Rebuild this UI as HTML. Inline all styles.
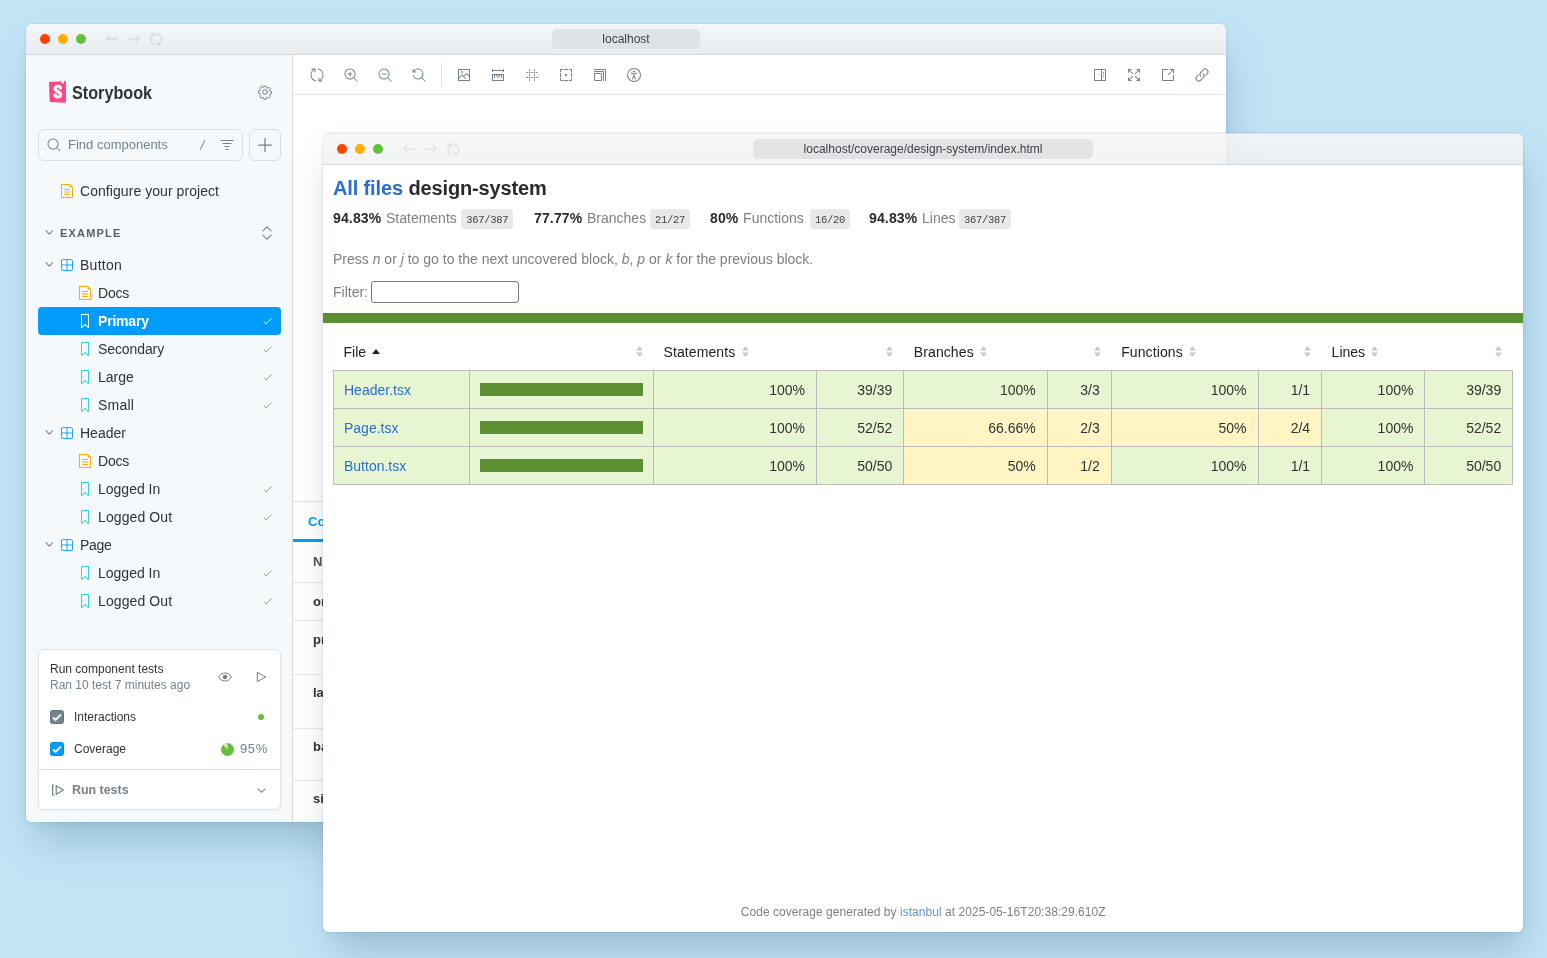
<!DOCTYPE html>
<html>
<head>
<meta charset="utf-8">
<title>Storybook coverage</title>
<style>
*{box-sizing:border-box;margin:0;padding:0}
html,body{width:1547px;height:958px;overflow:hidden}
body{background:#c2e5f6;font-family:"Liberation Sans",sans-serif;position:relative;color:#2e3438}
.abs{position:absolute}
.t{position:absolute;white-space:nowrap}
svg{position:absolute;overflow:visible}
.win{position:absolute;border-radius:6px;overflow:hidden}
.shadow{position:absolute;border-radius:6px;box-shadow:0 0 0 0.5px rgba(0,30,60,.10),5px 24px 40px -4px rgba(30,75,105,.23),1px 5px 12px -3px rgba(30,75,105,.08)}
#w1,#s1{left:26px;top:24px;width:1200px;height:798px}
#w2,#s2{left:323px;top:133px;width:1200px;height:799px}
#w1{background:#fff}
#w2{background:transparent}
.pc{position:absolute;width:1547px;height:958px;will-change:transform}
#w1 .pc{left:-26px;top:-24px}
#w2 .pc{left:-323px;top:-133px}
.dot{position:absolute;width:10px;height:10px;border-radius:50%}
.pill{position:absolute;background:#dfe3e6;border-radius:4px}
.hl{position:absolute;height:1px;background:#e3e9ee}
.ic{fill:none;stroke:#73828c;stroke-width:1;stroke-linecap:round;stroke-linejoin:round}
</style>
</head>
<body>
<div class="shadow" id="s1"></div>
<div id="w1" class="win"><div class="pc">
<div class="abs" style="left:26px;top:24px;width:1200px;height:30px;background:linear-gradient(#f4f7f9,#e8ecef)"></div>
<div class="abs" style="left:26px;top:54px;width:1200px;height:1px;background:#d2d7db"></div>
<div class="dot" style="left:40px;top:34px;background:#ff4400"></div>
<div class="dot" style="left:58px;top:34px;background:#ffae00"></div>
<div class="dot" style="left:76px;top:34px;background:#66bf3c"></div>
<svg style="left:105.00px;top:32.00px" width="14" height="14" viewBox="0 0 14 14" ><path d="M12.5 7H1.8M5.6 3.2L1.8 7l3.8 3.800" fill="none" stroke="#c9cfd4" stroke-width="1" stroke-linecap="round" stroke-linejoin="round"/></svg>
<svg style="left:127.00px;top:32.00px" width="14" height="14" viewBox="0 0 14 14" ><path d="M1.5 7h10.700M8.400 3.200L12.200 7l-3.800 3.800" fill="none" stroke="#c9cfd4" stroke-width="1" stroke-linecap="round" stroke-linejoin="round"/></svg>
<svg style="left:149.95px;top:32.75px" width="12.3" height="12.3" viewBox="0 0 14 14" ><path d="M5.500 1A.5.5 0 005 .500H2a.5.5 0 000 1h1.535a6.502 6.502 0 002.383 11.910.5.5 0 10.165-.986A5.502 5.502 0 014.500 2.100V4a.5.5 0 001 0V1.353a.500.500 0 000-.023V1zM7.507 1a.5.5 0 01.576-.410 6.502 6.502 0 012.383 11.910H12a.5.5 0 010 1H9a.5.5 0 01-.500-.500v-3a.5.5 0 011 0v1.900A5.500 5.500 0 007.917 1.576.5.5 0 017.507 1z" fill="#c9cfd4"/></svg>
<div class="pill" style="left:552px;top:29.300px;width:148px;height:19.500px;border-radius:5px"></div>
<div class="t m_local" style="top:31.00px;font-size:12px;line-height:16px;color:#3d4348;font-weight:400;font-family:'Liberation Sans',sans-serif;left:626px;transform:translateX(-50%);">localhost</div>
<div class="abs" style="left:26px;top:55px;width:266px;height:767px;background:#f6f9fc"></div>
<div class="abs" style="left:292px;top:55px;width:1px;height:767px;background:#d3dae0"></div>
<svg style="left:49px;top:81px" width="17" height="21.700" viewBox="0 0 256 319" preserveAspectRatio="none"><path fill="#FF4785" d="M9.872 293.324L.012 30.574C-.315 21.895 6.338 14.540 15.005 14L238.494.032c8.822-.552 16.420 6.153 16.972 14.975.020.332.031.665.031.998v286.314c0 8.839-7.165 16.004-16.004 16.004-.240 0-.479-.005-.718-.016l-213.627-9.595c-8.320-.373-14.963-7.065-15.276-15.388z"/><path fill="#FFF" d="M188.665 39.127l1.527-36.716L220.884 0l1.322 37.863c.046 1.318-.985 2.424-2.303 2.470-.564.020-1.117-.160-1.562-.508l-11.836-9.324-14.013 10.630c-1.050.797-2.548.592-3.345-.458-.336-.443-.507-.990-.484-1.546zm-39.253 80.853c0 6.227 41.942 3.243 47.572-1.131 0-42.402-22.752-64.684-64.415-64.684-41.662 0-65.005 22.628-65.005 56.570 0 59.117 79.780 60.249 79.780 92.494 0 9.052-4.432 14.426-14.183 14.426-12.705 0-17.729-6.490-17.138-28.552 0-4.786-48.458-6.278-49.936 0-3.762 53.466 29.548 68.887 67.665 68.887 36.935 0 65.892-19.687 65.892-55.326 0-63.360-80.961-61.663-80.961-93.060 0-12.729 9.455-14.426 15.070-14.426 5.909 0 16.547 1.042 15.660 24.803z"/></svg>
<div class="t m_sb" style="top:81.50px;font-size:18px;line-height:22px;color:#2e3438;font-weight:700;font-family:'Liberation Sans',sans-serif;left:72px;transform:scaleX(0.9);transform-origin:0 50%;">Storybook</div>
<svg style="left:258.00px;top:84.60px" width="14" height="14" viewBox="0 0 14 14" ><circle cx="7" cy="7" r="2.300" class="ic"/><path class="ic" d="M5.900 1.200h2.200l.35 1.500 1.050.45 1.350-.800 1.550 1.550-.800 1.350.45 1.050 1.500.35v2.200l-1.500.35-.45 1.050.8 1.350-1.550 1.550-1.350-.800-1.050.45-.35 1.500H5.900l-.35-1.500-1.050-.45-1.350.8L1.600 10.850l.8-1.350-.45-1.050L.450 8.100V5.900l1.500-.35.45-1.050-.8-1.350L3.150 1.600l1.350.8 1.050-.45z" transform="translate(0.050,-0.050)"/></svg>
<div class="abs" style="left:38px;top:129px;width:205px;height:32px;border:1px solid #d6dee6;border-radius:6px;background:#f6f9fc"></div>
<svg style="left:47.00px;top:138.00px" width="14" height="14" viewBox="0 0 14 14" ><path fill="#73828c" fill-rule="evenodd" d="M9.544 10.206a5.500 5.500 0 11.662-.662.500.500 0 01.148.102l3 3a.5.5 0 01-.708.708l-3-3a.500.500 0 01-.102-.148zM10.500 6a4.500 4.500 0 11-9 0 4.500 4.500 0 019 0z"/></svg>
<div class="t m_find" style="top:135.80px;font-size:13px;line-height:17px;color:#73828c;font-weight:400;font-family:'Liberation Sans',sans-serif;left:68px;">Find components</div>
<svg style="left:199px;top:139px" width="8" height="12" viewBox="0 0 8 12"><path d="M1.300 10.600L5.600 1.500" stroke="#73828c" stroke-width="1" stroke-linecap="round" fill="none"/></svg>
<svg style="left:220.00px;top:138.00px" width="14" height="14" viewBox="0 0 14 14" ><path class="ic" d="M1 2.500h12M3 5.500h8M5 8.500h4M6 11.500h2" /></svg>
<div class="abs" style="left:249px;top:129px;width:32px;height:32px;border:1px solid #d6dee6;border-radius:6px;background:#f6f9fc"></div>
<svg style="left:258.00px;top:138.00px" width="14" height="14" viewBox="0 0 14 14" ><path class="ic" style="stroke-width:1.250" d="M7 .600v12.800M.600 7h12.800" /></svg>
<svg style="left:60.00px;top:184.00px" width="14" height="14" viewBox="0 0 14 14" ><path fill="#ffae00" d="M4 5.500a.5.5 0 01.5-.5h5a.5.5 0 010 1h-5a.5.5 0 01-.5-.5zM4.500 7.500a.5.5 0 000 1h5a.5.5 0 000-1h-5zM4 10.500a.5.5 0 01.5-.5h5a.5.5 0 010 1h-5a.5.5 0 01-.5-.5z"/><path fill="#ffae00" fill-rule="evenodd" d="M1.500 0a.5.5 0 00-.5.5v13a.5.5 0 00.5.5h11a.5.5 0 00.5-.5V3.207a.5.5 0 00-.146-.353L10.146.146A.5.5 0 009.793 0H1.500zM2 1h7.500v2a.5.5 0 00.5.5h2V13H2V1z"/></svg>
<div class="t m_cfg" style="top:182.00px;font-size:14px;line-height:18px;color:#2e3438;font-weight:400;font-family:'Liberation Sans',sans-serif;letter-spacing:0.06px;left:80px;">Configure your project</div>
<svg style="left:45.30px;top:228.20px" width="8.8" height="8.8" viewBox="0 0 14 14" ><path d="M1.500 4.300L7 9.800 12.500 4.300" fill="none" stroke="#73828c" stroke-width="1.600" stroke-linecap="round" stroke-linejoin="round"/></svg>
<div class="t m_ex" style="top:225.50px;font-size:11px;line-height:15px;color:#56626b;font-weight:700;font-family:'Liberation Sans',sans-serif;letter-spacing:1.2px;left:60px;">EXAMPLE</div>
<svg style="left:260.00px;top:226.00px" width="14" height="14" viewBox="0 0 14 14" ><path class="ic" style="stroke-width:1.150" d="M2.900 4.800L7 .800 11.100 4.800M2.900 9.200L7 13.200 11.100 9.200"/></svg>
<svg style="left:45.30px;top:260.20px" width="8.8" height="8.8" viewBox="0 0 14 14" ><path d="M1.500 4.300L7 9.800 12.500 4.300" fill="none" stroke="#73828c" stroke-width="1.600" stroke-linecap="round" stroke-linejoin="round"/></svg>
<svg style="left:60.00px;top:258.00px" width="14" height="14" viewBox="0 0 14 14" ><path fill="#1ea7fd" fill-rule="evenodd" d="M3.500 1.004a2.500 2.500 0 00-2.500 2.500v7a2.500 2.500 0 002.500 2.500h7a2.500 2.500 0 002.500-2.500v-7a2.500 2.500 0 00-2.500-2.500h-7zm8.500 5.500H7.500v-4.500h3a1.500 1.500 0 011.500 1.500v3zm0 1v3a1.500 1.500 0 01-1.500 1.500h-3v-4.500H12zm-5.500 4.500v-4.500H2v3a1.500 1.500 0 001.500 1.500h3zM2 6.504h4.500v-4.500h-3a1.500 1.500 0 00-1.500 1.500v3z"/></svg>
<div class="t m_row0" style="top:256.00px;font-size:14px;line-height:18px;color:#2e3438;font-weight:400;font-family:'Liberation Sans',sans-serif;letter-spacing:0.28px;left:80px;">Button</div>
<svg style="left:78.00px;top:286.00px" width="14" height="14" viewBox="0 0 14 14" ><path fill="#ffae00" d="M4 5.500a.5.5 0 01.5-.5h5a.5.5 0 010 1h-5a.5.5 0 01-.5-.5zM4.500 7.500a.5.5 0 000 1h5a.5.5 0 000-1h-5zM4 10.500a.5.5 0 01.5-.5h5a.5.5 0 010 1h-5a.5.5 0 01-.5-.5z"/><path fill="#ffae00" fill-rule="evenodd" d="M1.500 0a.5.5 0 00-.5.5v13a.5.5 0 00.5.5h11a.5.5 0 00.5-.5V3.207a.5.5 0 00-.146-.353L10.146.146A.5.5 0 009.793 0H1.500zM2 1h7.500v2a.5.5 0 00.5.5h2V13H2V1z"/></svg>
<div class="t m_row1" style="top:284.00px;font-size:14px;line-height:18px;color:#2e3438;font-weight:400;font-family:'Liberation Sans',sans-serif;letter-spacing:-0.2px;left:98px;">Docs</div>
<div class="abs" style="left:38px;top:307px;width:243px;height:28px;border-radius:4px;background:#029cfd"></div>
<svg style="left:78.00px;top:314.00px" width="14" height="14" viewBox="0 0 14 14" ><path fill="#fff" fill-rule="evenodd" d="M3.500 0h7a.5.5 0 01.5.5v13a.5.5 0 01-.454.498.462.462 0 01-.371-.118L7 11.159l-3.175 2.720a.460.460 0 01-.379.118A.5.5 0 013 13.500V.500a.5.5 0 01.5-.500zM4 12.413l2.664-2.284a.454.454 0 01.377-.128.498.498 0 01.284.120L10 12.412V1H4v11.413z"/></svg>
<div class="t m_row2" style="top:312.00px;font-size:14px;line-height:18px;color:#fff;font-weight:700;font-family:'Liberation Sans',sans-serif;letter-spacing:-0.2px;left:98px;">Primary</div>
<svg style="left:262.50px;top:316.50px" width="9" height="9" viewBox="0 0 14 14" ><path d="M1.500 7.300L5 10.600 12.500 2.800" fill="none" stroke="#fff" stroke-width="1.550" stroke-linecap="round" stroke-linejoin="round"/></svg>
<svg style="left:78.00px;top:342.00px" width="14" height="14" viewBox="0 0 14 14" ><path fill="#37d5d3" fill-rule="evenodd" d="M3.500 0h7a.5.5 0 01.5.5v13a.5.5 0 01-.454.498.462.462 0 01-.371-.118L7 11.159l-3.175 2.720a.460.460 0 01-.379.118A.5.5 0 013 13.500V.500a.5.5 0 01.5-.500zM4 12.413l2.664-2.284a.454.454 0 01.377-.128.498.498 0 01.284.120L10 12.412V1H4v11.413z"/></svg>
<div class="t m_row3" style="top:340.00px;font-size:14px;line-height:18px;color:#2e3438;font-weight:400;font-family:'Liberation Sans',sans-serif;letter-spacing:-0.1px;left:98px;">Secondary</div>
<svg style="left:262.50px;top:344.50px" width="9" height="9" viewBox="0 0 14 14" ><path d="M1.500 7.300L5 10.600 12.500 2.800" fill="none" stroke="#66bf3c" stroke-width="1.550" stroke-linecap="round" stroke-linejoin="round"/></svg>
<svg style="left:78.00px;top:370.00px" width="14" height="14" viewBox="0 0 14 14" ><path fill="#37d5d3" fill-rule="evenodd" d="M3.500 0h7a.5.5 0 01.5.5v13a.5.5 0 01-.454.498.462.462 0 01-.371-.118L7 11.159l-3.175 2.720a.460.460 0 01-.379.118A.5.5 0 013 13.500V.500a.5.5 0 01.5-.500zM4 12.413l2.664-2.284a.454.454 0 01.377-.128.498.498 0 01.284.120L10 12.412V1H4v11.413z"/></svg>
<div class="t m_row4" style="top:368.00px;font-size:14px;line-height:18px;color:#2e3438;font-weight:400;font-family:'Liberation Sans',sans-serif;left:98px;">Large</div>
<svg style="left:262.50px;top:372.50px" width="9" height="9" viewBox="0 0 14 14" ><path d="M1.500 7.300L5 10.600 12.500 2.800" fill="none" stroke="#66bf3c" stroke-width="1.550" stroke-linecap="round" stroke-linejoin="round"/></svg>
<svg style="left:78.00px;top:398.00px" width="14" height="14" viewBox="0 0 14 14" ><path fill="#37d5d3" fill-rule="evenodd" d="M3.500 0h7a.5.5 0 01.5.5v13a.5.5 0 01-.454.498.462.462 0 01-.371-.118L7 11.159l-3.175 2.720a.460.460 0 01-.379.118A.5.5 0 013 13.500V.500a.5.5 0 01.5-.500zM4 12.413l2.664-2.284a.454.454 0 01.377-.128.498.498 0 01.284.120L10 12.412V1H4v11.413z"/></svg>
<div class="t m_row5" style="top:396.00px;font-size:14px;line-height:18px;color:#2e3438;font-weight:400;font-family:'Liberation Sans',sans-serif;letter-spacing:0.2px;left:98px;">Small</div>
<svg style="left:262.50px;top:400.50px" width="9" height="9" viewBox="0 0 14 14" ><path d="M1.500 7.300L5 10.600 12.500 2.800" fill="none" stroke="#66bf3c" stroke-width="1.550" stroke-linecap="round" stroke-linejoin="round"/></svg>
<svg style="left:45.30px;top:428.20px" width="8.8" height="8.8" viewBox="0 0 14 14" ><path d="M1.500 4.300L7 9.800 12.500 4.300" fill="none" stroke="#73828c" stroke-width="1.600" stroke-linecap="round" stroke-linejoin="round"/></svg>
<svg style="left:60.00px;top:426.00px" width="14" height="14" viewBox="0 0 14 14" ><path fill="#1ea7fd" fill-rule="evenodd" d="M3.500 1.004a2.500 2.500 0 00-2.500 2.500v7a2.500 2.500 0 002.500 2.500h7a2.500 2.500 0 002.500-2.500v-7a2.500 2.500 0 00-2.500-2.500h-7zm8.500 5.500H7.500v-4.500h3a1.500 1.500 0 011.500 1.500v3zm0 1v3a1.500 1.500 0 01-1.500 1.500h-3v-4.500H12zm-5.500 4.500v-4.500H2v3a1.500 1.500 0 001.500 1.500h3zM2 6.504h4.500v-4.500h-3a1.500 1.500 0 00-1.500 1.500v3z"/></svg>
<div class="t m_row6" style="top:424.00px;font-size:14px;line-height:18px;color:#2e3438;font-weight:400;font-family:'Liberation Sans',sans-serif;left:80px;">Header</div>
<svg style="left:78.00px;top:454.00px" width="14" height="14" viewBox="0 0 14 14" ><path fill="#ffae00" d="M4 5.500a.5.5 0 01.5-.5h5a.5.5 0 010 1h-5a.5.5 0 01-.5-.5zM4.500 7.500a.5.5 0 000 1h5a.5.5 0 000-1h-5zM4 10.500a.5.5 0 01.5-.5h5a.5.5 0 010 1h-5a.5.5 0 01-.5-.5z"/><path fill="#ffae00" fill-rule="evenodd" d="M1.500 0a.5.5 0 00-.5.5v13a.5.5 0 00.5.5h11a.5.5 0 00.5-.5V3.207a.5.5 0 00-.146-.353L10.146.146A.5.5 0 009.793 0H1.500zM2 1h7.500v2a.5.5 0 00.5.5h2V13H2V1z"/></svg>
<div class="t m_row7" style="top:452.00px;font-size:14px;line-height:18px;color:#2e3438;font-weight:400;font-family:'Liberation Sans',sans-serif;letter-spacing:-0.2px;left:98px;">Docs</div>
<svg style="left:78.00px;top:482.00px" width="14" height="14" viewBox="0 0 14 14" ><path fill="#37d5d3" fill-rule="evenodd" d="M3.500 0h7a.5.5 0 01.5.5v13a.5.5 0 01-.454.498.462.462 0 01-.371-.118L7 11.159l-3.175 2.720a.460.460 0 01-.379.118A.5.5 0 013 13.500V.500a.5.5 0 01.5-.500zM4 12.413l2.664-2.284a.454.454 0 01.377-.128.498.498 0 01.284.120L10 12.412V1H4v11.413z"/></svg>
<div class="t m_row8" style="top:480.00px;font-size:14px;line-height:18px;color:#2e3438;font-weight:400;font-family:'Liberation Sans',sans-serif;left:98px;">Logged In</div>
<svg style="left:262.50px;top:484.50px" width="9" height="9" viewBox="0 0 14 14" ><path d="M1.500 7.300L5 10.600 12.500 2.800" fill="none" stroke="#66bf3c" stroke-width="1.550" stroke-linecap="round" stroke-linejoin="round"/></svg>
<svg style="left:78.00px;top:510.00px" width="14" height="14" viewBox="0 0 14 14" ><path fill="#37d5d3" fill-rule="evenodd" d="M3.500 0h7a.5.5 0 01.5.5v13a.5.5 0 01-.454.498.462.462 0 01-.371-.118L7 11.159l-3.175 2.720a.460.460 0 01-.379.118A.5.5 0 013 13.500V.500a.5.5 0 01.5-.500zM4 12.413l2.664-2.284a.454.454 0 01.377-.128.498.498 0 01.284.120L10 12.412V1H4v11.413z"/></svg>
<div class="t m_row9" style="top:508.00px;font-size:14px;line-height:18px;color:#2e3438;font-weight:400;font-family:'Liberation Sans',sans-serif;letter-spacing:0.1px;left:98px;">Logged Out</div>
<svg style="left:262.50px;top:512.50px" width="9" height="9" viewBox="0 0 14 14" ><path d="M1.500 7.300L5 10.600 12.500 2.800" fill="none" stroke="#66bf3c" stroke-width="1.550" stroke-linecap="round" stroke-linejoin="round"/></svg>
<svg style="left:45.30px;top:540.20px" width="8.8" height="8.8" viewBox="0 0 14 14" ><path d="M1.500 4.300L7 9.800 12.500 4.300" fill="none" stroke="#73828c" stroke-width="1.600" stroke-linecap="round" stroke-linejoin="round"/></svg>
<svg style="left:60.00px;top:538.00px" width="14" height="14" viewBox="0 0 14 14" ><path fill="#1ea7fd" fill-rule="evenodd" d="M3.500 1.004a2.500 2.500 0 00-2.500 2.500v7a2.500 2.500 0 002.500 2.500h7a2.500 2.500 0 002.500-2.500v-7a2.500 2.500 0 00-2.500-2.500h-7zm8.500 5.500H7.500v-4.500h3a1.500 1.500 0 011.500 1.500v3zm0 1v3a1.500 1.500 0 01-1.500 1.500h-3v-4.500H12zm-5.500 4.500v-4.500H2v3a1.500 1.500 0 001.500 1.500h3zM2 6.504h4.500v-4.500h-3a1.500 1.500 0 00-1.500 1.500v3z"/></svg>
<div class="t m_row10" style="top:536.00px;font-size:14px;line-height:18px;color:#2e3438;font-weight:400;font-family:'Liberation Sans',sans-serif;letter-spacing:-0.3px;left:80px;">Page</div>
<svg style="left:78.00px;top:566.00px" width="14" height="14" viewBox="0 0 14 14" ><path fill="#37d5d3" fill-rule="evenodd" d="M3.500 0h7a.5.5 0 01.5.5v13a.5.5 0 01-.454.498.462.462 0 01-.371-.118L7 11.159l-3.175 2.720a.460.460 0 01-.379.118A.5.5 0 013 13.500V.500a.5.5 0 01.5-.500zM4 12.413l2.664-2.284a.454.454 0 01.377-.128.498.498 0 01.284.120L10 12.412V1H4v11.413z"/></svg>
<div class="t m_row11" style="top:564.00px;font-size:14px;line-height:18px;color:#2e3438;font-weight:400;font-family:'Liberation Sans',sans-serif;left:98px;">Logged In</div>
<svg style="left:262.50px;top:568.50px" width="9" height="9" viewBox="0 0 14 14" ><path d="M1.500 7.300L5 10.600 12.500 2.800" fill="none" stroke="#66bf3c" stroke-width="1.550" stroke-linecap="round" stroke-linejoin="round"/></svg>
<svg style="left:78.00px;top:594.00px" width="14" height="14" viewBox="0 0 14 14" ><path fill="#37d5d3" fill-rule="evenodd" d="M3.500 0h7a.5.5 0 01.5.5v13a.5.5 0 01-.454.498.462.462 0 01-.371-.118L7 11.159l-3.175 2.720a.460.460 0 01-.379.118A.5.5 0 013 13.500V.500a.5.5 0 01.5-.500zM4 12.413l2.664-2.284a.454.454 0 01.377-.128.498.498 0 01.284.120L10 12.412V1H4v11.413z"/></svg>
<div class="t m_row12" style="top:592.00px;font-size:14px;line-height:18px;color:#2e3438;font-weight:400;font-family:'Liberation Sans',sans-serif;letter-spacing:0.1px;left:98px;">Logged Out</div>
<svg style="left:262.50px;top:596.50px" width="9" height="9" viewBox="0 0 14 14" ><path d="M1.500 7.300L5 10.600 12.500 2.800" fill="none" stroke="#66bf3c" stroke-width="1.550" stroke-linecap="round" stroke-linejoin="round"/></svg>
<div class="abs" style="left:38px;top:649px;width:243px;height:161px;border:1px solid #dbe3ea;border-radius:6px;background:#fff;box-shadow:0 1px 3px rgba(0,0,0,.04)"></div>
<div class="t m_rct" style="top:661.00px;font-size:12px;line-height:16px;color:#2e3438;font-weight:400;font-family:'Liberation Sans',sans-serif;left:50px;">Run component tests</div>
<div class="t m_ran" style="top:677.00px;font-size:12px;line-height:16px;color:#73828c;font-weight:400;font-family:'Liberation Sans',sans-serif;left:50px;">Ran 10 test 7 minutes ago</div>
<svg style="left:218.00px;top:670.00px" width="14" height="14" viewBox="0 0 14 14" ><path fill="none" stroke="#73828c" stroke-width="1" stroke-linejoin="round" d="M0.600 7C2.100 4.400 4.300 3 7 3s4.900 1.400 6.400 4c-1.500 2.600-3.700 4-6.400 4S2.100 9.600 0.600 7"/><circle cx="7" cy="7" r="2.300" fill="#73828c"/></svg>
<svg style="left:254.00px;top:670.00px" width="14" height="14" viewBox="0 0 14 14" ><path fill="none" stroke="#73828c" stroke-width="1" stroke-linejoin="round" stroke-linecap="round" d="M3.300 2.400v9.200L11.700 7 3.300 2.400"/></svg>
<div class="abs" style="left:50px;top:710px;width:14px;height:14px;border-radius:2.500px;background:#75838d;border:1px solid #5f7383"></div>
<svg style="left:50.00px;top:710.00px" width="14" height="14" viewBox="0 0 14 14" ><path d="M3.100 7.500L5.500 9.900 10.800 4.600" fill="none" stroke="#fff" stroke-width="2" stroke-linecap="butt" stroke-linejoin="miter"/></svg>
<div class="t m_int" style="top:709.00px;font-size:12px;line-height:16px;color:#2e3438;font-weight:400;font-family:'Liberation Sans',sans-serif;left:74px;">Interactions</div>
<div class="abs" style="left:258px;top:714px;width:6px;height:6px;border-radius:50%;background:#66bf3c"></div>
<div class="abs" style="left:50px;top:742px;width:14px;height:14px;border-radius:2.500px;background:#039cfd;border:1px solid #068be9"></div>
<svg style="left:50.00px;top:742.00px" width="14" height="14" viewBox="0 0 14 14" ><path d="M3.100 7.500L5.500 9.900 10.800 4.600" fill="none" stroke="#fff" stroke-width="2" stroke-linecap="butt" stroke-linejoin="miter"/></svg>
<div class="t m_cov" style="top:741.00px;font-size:12px;line-height:16px;color:#2e3438;font-weight:400;font-family:'Liberation Sans',sans-serif;left:74px;">Coverage</div>
<svg style="left:220.50px;top:742.50px" width="13" height="13" viewBox="0 0 14 14" ><circle cx="7" cy="7" r="7" fill="#66bf3c"/><path d="M7 7V0A7 7 0 0 0 2.300 1.800z" fill="#d4ecc6"/></svg>
<div class="t m_95" style="top:740.00px;font-size:13px;line-height:17px;color:#73828c;font-weight:400;font-family:'Liberation Sans',sans-serif;letter-spacing:0.6px;left:240px;">95%</div>
<div class="abs" style="left:39px;top:769px;width:241px;height:1px;background:#dbe3ea"></div>
<svg style="left:51.00px;top:783.00px" width="14" height="14" viewBox="0 0 14 14" ><path fill="none" stroke="#73828c" stroke-width="1.200" stroke-linejoin="round" stroke-linecap="round" d="M2.900 2H1.600v10H2.900M5.200 2.800v8.400L12.400 7 5.200 2.800"/></svg>
<div class="t m_run" style="top:780.80px;font-size:13px;line-height:17px;color:#73828c;font-weight:700;font-family:'Liberation Sans',sans-serif;left:71.5px;transform:scaleX(0.955);transform-origin:0 50%;">Run tests</div>
<svg style="left:256.50px;top:785.50px" width="9" height="9" viewBox="0 0 14 14" ><path d="M1.500 4.300L7 9.800 12.500 4.300" fill="none" stroke="#73828c" stroke-width="1.600" stroke-linecap="round" stroke-linejoin="round"/></svg>
<div class="abs" style="left:293px;top:94px;width:933px;height:1px;background:#dde4ea"></div>
<svg style="left:310.00px;top:68.00px" width="14" height="14" viewBox="0 0 14 14" ><path d="M5.500 1A.5.5 0 005 .500H2a.5.5 0 000 1h1.535a6.502 6.502 0 002.383 11.910.5.5 0 10.165-.986A5.502 5.502 0 014.500 2.100V4a.5.5 0 001 0V1.353a.500.500 0 000-.023V1zM7.507 1a.5.5 0 01.576-.410 6.502 6.502 0 012.383 11.910H12a.5.5 0 010 1H9a.5.5 0 01-.500-.500v-3a.5.5 0 011 0v1.900A5.500 5.500 0 007.917 1.576.5.5 0 017.507 1z" fill="#73828c"/></svg>
<svg style="left:344.00px;top:68.00px" width="14" height="14" viewBox="0 0 14 14" ><path fill="#73828c" d="M6 3.500a.5.5 0 01.5.5v1.500H8a.5.5 0 010 1H6.500V8a.5.5 0 01-1 0V6.500H4a.5.5 0 010-1h1.500V4a.5.5 0 01.5-.5z"/><path fill="#73828c" fill-rule="evenodd" d="M9.544 10.206a5.500 5.500 0 11.662-.662.500.500 0 01.148.102l3 3a.5.5 0 01-.708.708l-3-3a.500.500 0 01-.102-.148zM10.500 6a4.500 4.500 0 11-9 0 4.500 4.500 0 019 0z"/></svg>
<svg style="left:378.00px;top:68.00px" width="14" height="14" viewBox="0 0 14 14" ><path fill="#73828c" d="M4 5.500a.5.5 0 000 1h4a.5.5 0 000-1H4z"/><path fill="#73828c" fill-rule="evenodd" d="M6 11.500c1.350 0 2.587-.487 3.544-1.294a.500.500 0 00.102.148l3 3a.5.5 0 00.708-.708l-3-3a.500.500 0 00-.148-.102A5.500 5.500 0 106 11.500zm0-1a4.500 4.500 0 100-9 4.500 4.500 0 000 9z"/></svg>
<svg style="left:412.00px;top:68.00px" width="14" height="14" viewBox="0 0 14 14" ><path fill="#73828c" d="M1.500 2.837V1.500a.5.5 0 00-1 0V4a.5.5 0 00.5.5h2.500a.5.5 0 000-1H2.258a4.500 4.500 0 11-.496 4.016.5.5 0 10-.942.337 5.502 5.502 0 008.724 2.353.500.500 0 00.102.148l3 3a.5.5 0 00.708-.708l-3-3a.500.500 0 00-.148-.102A5.500 5.500 0 101.500 2.837z"/></svg>
<div class="abs" style="left:441px;top:63px;width:1px;height:24px;background:#dde4ea"></div>
<svg style="left:457.00px;top:68.00px" width="14" height="14" viewBox="0 0 14 14" ><path fill="#73828c" fill-rule="evenodd" d="M6.250 4.254a1.250 1.250 0 11-2.500 0 1.250 1.250 0 012.500 0zm-.5 0a.750.750 0 11-1.500 0 .750.750 0 011.500 0z"/><path fill="#73828c" fill-rule="evenodd" d="M13 1.504v11a.5.5 0 01-.5.5h-11a.5.5 0 01-.5-.5v-11a.5.5 0 01.5-.5h11a.5.5 0 01.5.5zM2 9.297V2.004h10v5.293L9.854 5.150a.5.5 0 00-.708 0L6.500 7.797 5.354 6.650a.5.5 0 00-.708 0L2 9.297zM9.500 6.210l2.500 2.500v3.293H2V10.710l3-3 3.146 3.146a.5.5 0 00.708-.707L7.207 8.504 9.500 6.210z"/></svg>
<svg style="left:491.00px;top:68.00px" width="14" height="14" viewBox="0 0 14 14" ><path fill="#73828c" fill-rule="evenodd" d="M1.500 1a.5.5 0 01.5.5V2h10v-.500a.5.5 0 011 0v2a.5.5 0 01-1 0V3H2v.500a.5.5 0 01-1 0v-2a.5.5 0 01.5-.500zM1.500 6a.5.5 0 00-.5.5v6a.5.5 0 00.5.5h11a.5.5 0 00.5-.5v-6a.5.5 0 00-.5-.5h-11zM2 7v5h10V7h-1v2.500a.5.5 0 01-1 0V7h-.750v1a.5.5 0 01-1 0V7H7.500v2.500a.5.5 0 01-1 0V7h-.750v1a.5.5 0 01-1 0V7H4v2.500a.5.5 0 01-1 0V7H2z"/></svg>
<svg style="left:525.00px;top:68.00px" width="14" height="14" viewBox="0 0 14 14" ><path fill="none" stroke="#73828c" stroke-width="1" stroke-linecap="butt" stroke-dasharray="1.600 .900" d="M4.500 1.250v11.700M9.500 1.250v11.700M1.250 4.500h11.700M1.250 9.500h11.700"/></svg>
<svg style="left:559.00px;top:68.00px" width="14" height="14" viewBox="0 0 14 14" ><path fill="none" stroke="#73828c" stroke-width="1" stroke-linecap="round" stroke-linejoin="round" d="M1.500 3.700V1.500H3.700M5.300 1.500h3.400M10.300 1.500h2.200V3.700M12.500 5.300v3.400M12.500 10.300v2.200H10.300M8.700 12.500H5.300M3.700 12.500H1.500V10.300M1.500 8.700V5.300"/><rect x="6" y="6" width="2" height="2" rx=".5" fill="#73828c"/></svg>
<svg style="left:593.00px;top:68.00px" width="14" height="14" viewBox="0 0 14 14" ><path fill="none" stroke="#73828c" stroke-width="1" stroke-linecap="round" stroke-linejoin="round" d="M1.500 5.500h7v7h-7v-7h1M1.500 3.500h9v9.200M1.500 1.500h11v11.200"/></svg>
<svg style="left:627.00px;top:68.00px" width="14" height="14" viewBox="0 0 14 14" ><path fill="#73828c" d="M3.526 4.842a.5.5 0 01.632-.316l2.051.684a2.500 2.500 0 001.582 0l2.050-.684a.5.5 0 01.317.948l-2.453.818a.300.300 0 00-.205.285v.243a4.500 4.500 0 00.475 2.012l.972 1.944a.5.5 0 11-.894.448L7 9.118l-1.053 2.106a.5.5 0 01-.894-.448l.972-1.944A4.500 4.500 0 006.500 6.820v-.243a.300.300 0 00-.205-.285l-2.453-.818a.5.5 0 01-.316-.632z"/><path fill="#73828c" d="M7 4.500a1 1 0 100-2 1 1 0 000 2z"/><path fill="#73828c" fill-rule="evenodd" d="M7 14A7 7 0 107 0a7 7 0 000 14zm0-1A6 6 0 107 1a6 6 0 000 12z"/></svg>
<svg style="left:1093.00px;top:68.00px" width="14" height="14" viewBox="0 0 14 14" ><path fill="none" stroke="#73828c" stroke-width="1" stroke-linejoin="round" d="M1.500 1.500h11v11h-11v-11h1M8.500 1.500v11"/><path fill="none" stroke="#73828c" stroke-width="1.100" stroke-linecap="round" d="M10.350 4.500h.300M10.350 6.500h.300M10.350 8.500h.300"/></svg>
<svg style="left:1127.00px;top:68.00px" width="14" height="14" viewBox="0 0 14 14" ><path fill="none" stroke="#73828c" stroke-width="1.050" stroke-linecap="round" stroke-linejoin="round" d="M1.500 4.200V1.500h2.700M1.500 1.500l4.200 4.200M12.500 4.200V1.500H9.800M12.500 1.500L8.300 5.700M1.500 9.800v2.700h2.700M1.500 12.500l4.200-4.200M12.500 9.800v2.700H9.800M12.500 12.500L8.300 8.300"/><path fill="#73828c" d="M1.500 1.500h2.600L1.500 4.100zM12.500 1.500v2.600L9.900 1.500zM1.500 12.500v-2.600l2.600 2.600zM12.500 12.500H9.900l2.600-2.600z"/></svg>
<svg style="left:1161.00px;top:68.00px" width="14" height="14" viewBox="0 0 14 14" ><path fill="none" stroke="#73828c" stroke-width="1" stroke-linecap="round" stroke-linejoin="round" d="M6.500 1.500H1.500v11h11V7.500M9 1.500h3.500V5M12.500 1.500L7 7"/></svg>
<svg style="left:1195.00px;top:68.00px" width="14" height="14" viewBox="0 0 14 14" ><path fill="#73828c" d="M11.841 2.159a2.250 2.250 0 00-3.182 0l-2.500 2.500a2.250 2.250 0 000 3.182.5.5 0 01-.707.707 3.250 3.250 0 010-4.596l2.500-2.500a3.250 3.250 0 014.596 4.596l-2.063 2.063a4.270 4.270 0 00-.094-1.320l1.450-1.450a2.250 2.250 0 000-3.182z"/><path fill="#73828c" d="M3.610 7.210c-.100-.434-.132-.880-.095-1.321L1.452 7.952a3.250 3.250 0 104.596 4.596l2.500-2.500a3.250 3.250 0 000-4.596.5.5 0 00-.707.707 2.250 2.250 0 010 3.182l-2.500 2.500A2.250 2.250 0 112.159 8.660l1.450-1.450z"/></svg>
<div class="abs" style="left:293px;top:501px;width:933px;height:1px;background:#dde4ea"></div>
<div class="t " style="top:512.50px;font-size:13px;line-height:17px;color:#029cfd;font-weight:700;font-family:'Liberation Sans',sans-serif;left:308px;">Controls</div>
<div class="abs" style="left:293px;top:539px;width:60px;height:3px;background:#029cfd"></div>
<div class="t " style="top:552.50px;font-size:13px;line-height:17px;color:#4a5157;font-weight:700;font-family:'Liberation Sans',sans-serif;left:313px;">Name</div>
<div class="abs" style="left:293px;top:582px;width:933px;height:1px;background:#e3e9ee"></div>
<div class="abs" style="left:293px;top:620px;width:933px;height:1px;background:#e3e9ee"></div>
<div class="abs" style="left:293px;top:674px;width:933px;height:1px;background:#e3e9ee"></div>
<div class="abs" style="left:293px;top:728px;width:933px;height:1px;background:#e3e9ee"></div>
<div class="abs" style="left:293px;top:780px;width:933px;height:1px;background:#e3e9ee"></div>
<div class="t " style="top:592.50px;font-size:13px;line-height:17px;color:#2e3438;font-weight:700;font-family:'Liberation Sans',sans-serif;left:313px;">onClick</div>
<div class="t " style="top:630.50px;font-size:13px;line-height:17px;color:#2e3438;font-weight:700;font-family:'Liberation Sans',sans-serif;left:313px;">primary</div>
<div class="t " style="top:683.50px;font-size:13px;line-height:17px;color:#2e3438;font-weight:700;font-family:'Liberation Sans',sans-serif;left:313px;">label</div>
<div class="t " style="top:737.50px;font-size:13px;line-height:17px;color:#2e3438;font-weight:700;font-family:'Liberation Sans',sans-serif;left:313px;">backgroundColor</div>
<div class="t " style="top:789.50px;font-size:13px;line-height:17px;color:#2e3438;font-weight:700;font-family:'Liberation Sans',sans-serif;left:313px;">size</div>
</div></div>
<div class="shadow" id="s2"></div>
<div id="w2" class="win"><div class="pc">
<div class="abs" style="left:323px;top:133px;width:1200px;height:31px;background:linear-gradient(rgba(246,246,247,.86),rgba(240,241,242,.83))"></div>
<div class="abs" style="left:323px;top:133px;width:1200px;height:1px;background:rgba(0,0,0,.07)"></div>
<div class="abs" style="left:323px;top:164px;width:1200px;height:1px;background:#d8dbdd"></div>
<div class="abs" style="left:323px;top:165px;width:1200px;height:767px;background:#fff"></div>
<div class="dot" style="left:337px;top:144px;background:#ff4400"></div>
<div class="dot" style="left:355px;top:144px;background:#ffae00"></div>
<div class="dot" style="left:373px;top:144px;background:#66bf3c"></div>
<svg style="left:402.00px;top:142.00px" width="14" height="14" viewBox="0 0 14 14" ><path d="M12.500 7H1.800M5.600 3.200L1.800 7l3.800 3.800" fill="none" stroke="#d3d6d9" stroke-width="1" stroke-linecap="round" stroke-linejoin="round"/></svg>
<svg style="left:424.00px;top:142.00px" width="14" height="14" viewBox="0 0 14 14" ><path d="M1.500 7h10.700M8.400 3.200L12.200 7l-3.800 3.800" fill="none" stroke="#d3d6d9" stroke-width="1" stroke-linecap="round" stroke-linejoin="round"/></svg>
<svg style="left:446.95px;top:142.75px" width="12.3" height="12.3" viewBox="0 0 14 14" ><path d="M5.500 1A.5.5 0 005 .500H2a.5.5 0 000 1h1.535a6.502 6.502 0 002.383 11.910.5.5 0 10.165-.986A5.502 5.502 0 014.500 2.100V4a.5.5 0 001 0V1.353a.500.500 0 000-.023V1zM7.507 1a.5.5 0 01.576-.410 6.502 6.502 0 012.383 11.910H12a.5.5 0 010 1H9a.5.5 0 01-.500-.500v-3a.5.5 0 011 0v1.900A5.500 5.500 0 007.917 1.576.5.5 0 017.507 1z" fill="#d3d6d9"/></svg>
<div class="pill" style="left:753px;top:139px;width:340px;height:20px;background:rgba(222,224,227,.85);border-radius:5px"></div>
<div class="t m_url" style="top:141.00px;font-size:12px;line-height:16px;color:#3d4348;font-weight:400;font-family:'Liberation Sans',sans-serif;left:923px;transform:translateX(-50%);">localhost/coverage/design-system/index.html</div>
<div class="t m_h1" style="top:176.00px;font-size:20px;line-height:24px;color:#2b2b2b;font-weight:700;font-family:'Liberation Sans',sans-serif;letter-spacing:-0.13px;left:333px;"><span style="color:#2a6fd0">All files</span> design-system</div>
<div class="t m_st0" style="top:209.00px;font-size:14px;line-height:18px;color:#7f7f7f;font-weight:400;font-family:'Liberation Sans',sans-serif;left:333px;"><b style="color:#2b2b2b;letter-spacing:.15px">94.83%</b><span style="letter-spacing:.7px"> </span>Statements</div>
<div class="abs" style="left:461.2px;top:209.300px;width:52px;height:20.200px;border-radius:3px;background:#e8e8e8"></div>
<div class="t m_fr0" style="top:213.05px;font-size:10.5px;line-height:14.5px;color:#444;font-weight:400;font-family:'Liberation Mono',monospace;letter-spacing:-0.3px;left:487.2px;transform:translateX(-50%);">367/387</div>
<div class="t m_st1" style="top:209.00px;font-size:14px;line-height:18px;color:#7f7f7f;font-weight:400;font-family:'Liberation Sans',sans-serif;left:534px;"><b style="color:#2b2b2b;letter-spacing:.15px">77.77%</b><span style="letter-spacing:.7px"> </span>Branches</div>
<div class="abs" style="left:650px;top:209.300px;width:40px;height:20.200px;border-radius:3px;background:#e8e8e8"></div>
<div class="t m_fr1" style="top:213.05px;font-size:10.5px;line-height:14.5px;color:#444;font-weight:400;font-family:'Liberation Mono',monospace;letter-spacing:-0.3px;left:670.0px;transform:translateX(-50%);">21/27</div>
<div class="t m_st2" style="top:209.00px;font-size:14px;line-height:18px;color:#7f7f7f;font-weight:400;font-family:'Liberation Sans',sans-serif;left:710px;"><b style="color:#2b2b2b;letter-spacing:.15px">80%</b><span style="letter-spacing:.7px"> </span>Functions</div>
<div class="abs" style="left:810px;top:209.300px;width:40px;height:20.200px;border-radius:3px;background:#e8e8e8"></div>
<div class="t m_fr2" style="top:213.05px;font-size:10.5px;line-height:14.5px;color:#444;font-weight:400;font-family:'Liberation Mono',monospace;letter-spacing:-0.3px;left:830.0px;transform:translateX(-50%);">16/20</div>
<div class="t m_st3" style="top:209.00px;font-size:14px;line-height:18px;color:#7f7f7f;font-weight:400;font-family:'Liberation Sans',sans-serif;left:869px;"><b style="color:#2b2b2b;letter-spacing:.15px">94.83%</b><span style="letter-spacing:.7px"> </span>Lines</div>
<div class="abs" style="left:959px;top:209.300px;width:52px;height:20.200px;border-radius:3px;background:#e8e8e8"></div>
<div class="t m_fr3" style="top:213.05px;font-size:10.5px;line-height:14.5px;color:#444;font-weight:400;font-family:'Liberation Mono',monospace;letter-spacing:-0.3px;left:985.0px;transform:translateX(-50%);">367/387</div>
<div class="t m_press" style="top:250.00px;font-size:14px;line-height:18px;color:#7f7f7f;font-weight:400;font-family:'Liberation Sans',sans-serif;left:333px;">Press <i>n</i> or <i>j</i> to go to the next uncovered block, <i>b</i>, <i>p</i> or <i>k</i> for the previous block.</div>
<div class="t m_filter" style="top:282.50px;font-size:14px;line-height:18px;color:#7f7f7f;font-weight:400;font-family:'Liberation Sans',sans-serif;left:333px;">Filter:</div>
<div class="abs" style="left:370.800px;top:281.200px;width:148px;height:22px;border:1px solid #7a7a7a;border-radius:3px;background:#fff"></div>
<div class="abs" style="left:323px;top:313px;width:1200px;height:10px;background:#5c8f32"></div>
<div class="abs" style="left:333.6px;top:370.4px;width:135.4px;height:38.0px;background:#e7f5d2"></div>
<div class="abs" style="left:469.0px;top:370.4px;width:184.2px;height:38.0px;background:#e7f5d2"></div>
<div class="abs" style="left:653.2px;top:370.4px;width:163.3px;height:38.0px;background:#e7f5d2"></div>
<div class="abs" style="left:816.5px;top:370.4px;width:87.3px;height:38.0px;background:#e7f5d2"></div>
<div class="abs" style="left:903.8px;top:370.4px;width:143.4px;height:38.0px;background:#e7f5d2"></div>
<div class="abs" style="left:1047.2px;top:370.4px;width:64.0px;height:38.0px;background:#e7f5d2"></div>
<div class="abs" style="left:1111.2px;top:370.4px;width:146.8px;height:38.0px;background:#e7f5d2"></div>
<div class="abs" style="left:1258.0px;top:370.4px;width:63.6px;height:38.0px;background:#e7f5d2"></div>
<div class="abs" style="left:1321.6px;top:370.4px;width:103.3px;height:38.0px;background:#e7f5d2"></div>
<div class="abs" style="left:1424.9px;top:370.4px;width:87.8px;height:38.0px;background:#e7f5d2"></div>
<div class="t m_fn0" style="top:381.00px;font-size:14px;line-height:18px;color:#2a6fd0;font-weight:400;font-family:'Liberation Sans',sans-serif;left:344px;">Header.tsx</div>
<div class="abs" style="left:479.500px;top:382.8px;width:163.600px;height:13.600px;background:#5c8f32"></div>
<div class="t m_v0_0" style="top:381.00px;font-size:14px;line-height:18px;color:#333;font-weight:400;font-family:'Liberation Sans',sans-serif;right:742.0px;">100%</div>
<div class="t m_v0_1" style="top:381.00px;font-size:14px;line-height:18px;color:#333;font-weight:400;font-family:'Liberation Sans',sans-serif;right:654.7px;">39/39</div>
<div class="t m_v0_2" style="top:381.00px;font-size:14px;line-height:18px;color:#333;font-weight:400;font-family:'Liberation Sans',sans-serif;right:511.29999999999995px;">100%</div>
<div class="t m_v0_3" style="top:381.00px;font-size:14px;line-height:18px;color:#333;font-weight:400;font-family:'Liberation Sans',sans-serif;right:447.29999999999995px;">3/3</div>
<div class="t m_v0_4" style="top:381.00px;font-size:14px;line-height:18px;color:#333;font-weight:400;font-family:'Liberation Sans',sans-serif;right:300.5px;">100%</div>
<div class="t m_v0_5" style="top:381.00px;font-size:14px;line-height:18px;color:#333;font-weight:400;font-family:'Liberation Sans',sans-serif;right:236.9000000000001px;">1/1</div>
<div class="t m_v0_6" style="top:381.00px;font-size:14px;line-height:18px;color:#333;font-weight:400;font-family:'Liberation Sans',sans-serif;right:133.5999999999999px;">100%</div>
<div class="t m_v0_7" style="top:381.00px;font-size:14px;line-height:18px;color:#333;font-weight:400;font-family:'Liberation Sans',sans-serif;right:45.799999999999955px;">39/39</div>
<div class="abs" style="left:333.6px;top:408.4px;width:135.4px;height:38.1px;background:#e7f5d2"></div>
<div class="abs" style="left:469.0px;top:408.4px;width:184.2px;height:38.1px;background:#e7f5d2"></div>
<div class="abs" style="left:653.2px;top:408.4px;width:163.3px;height:38.1px;background:#e7f5d2"></div>
<div class="abs" style="left:816.5px;top:408.4px;width:87.3px;height:38.1px;background:#e7f5d2"></div>
<div class="abs" style="left:903.8px;top:408.4px;width:143.4px;height:38.1px;background:#fff4c4"></div>
<div class="abs" style="left:1047.2px;top:408.4px;width:64.0px;height:38.1px;background:#fff4c4"></div>
<div class="abs" style="left:1111.2px;top:408.4px;width:146.8px;height:38.1px;background:#fff4c4"></div>
<div class="abs" style="left:1258.0px;top:408.4px;width:63.6px;height:38.1px;background:#fff4c4"></div>
<div class="abs" style="left:1321.6px;top:408.4px;width:103.3px;height:38.1px;background:#e7f5d2"></div>
<div class="abs" style="left:1424.9px;top:408.4px;width:87.8px;height:38.1px;background:#e7f5d2"></div>
<div class="t m_fn1" style="top:419.00px;font-size:14px;line-height:18px;color:#2a6fd0;font-weight:400;font-family:'Liberation Sans',sans-serif;left:344px;">Page.tsx</div>
<div class="abs" style="left:479.500px;top:420.8px;width:163.600px;height:13.600px;background:#5c8f32"></div>
<div class="t m_v1_0" style="top:419.00px;font-size:14px;line-height:18px;color:#333;font-weight:400;font-family:'Liberation Sans',sans-serif;right:742.0px;">100%</div>
<div class="t m_v1_1" style="top:419.00px;font-size:14px;line-height:18px;color:#333;font-weight:400;font-family:'Liberation Sans',sans-serif;right:654.7px;">52/52</div>
<div class="t m_v1_2" style="top:419.00px;font-size:14px;line-height:18px;color:#333;font-weight:400;font-family:'Liberation Sans',sans-serif;right:511.29999999999995px;">66.66%</div>
<div class="t m_v1_3" style="top:419.00px;font-size:14px;line-height:18px;color:#333;font-weight:400;font-family:'Liberation Sans',sans-serif;right:447.29999999999995px;">2/3</div>
<div class="t m_v1_4" style="top:419.00px;font-size:14px;line-height:18px;color:#333;font-weight:400;font-family:'Liberation Sans',sans-serif;right:300.5px;">50%</div>
<div class="t m_v1_5" style="top:419.00px;font-size:14px;line-height:18px;color:#333;font-weight:400;font-family:'Liberation Sans',sans-serif;right:236.9000000000001px;">2/4</div>
<div class="t m_v1_6" style="top:419.00px;font-size:14px;line-height:18px;color:#333;font-weight:400;font-family:'Liberation Sans',sans-serif;right:133.5999999999999px;">100%</div>
<div class="t m_v1_7" style="top:419.00px;font-size:14px;line-height:18px;color:#333;font-weight:400;font-family:'Liberation Sans',sans-serif;right:45.799999999999955px;">52/52</div>
<div class="abs" style="left:333.6px;top:446.5px;width:135.4px;height:38.0px;background:#e7f5d2"></div>
<div class="abs" style="left:469.0px;top:446.5px;width:184.2px;height:38.0px;background:#e7f5d2"></div>
<div class="abs" style="left:653.2px;top:446.5px;width:163.3px;height:38.0px;background:#e7f5d2"></div>
<div class="abs" style="left:816.5px;top:446.5px;width:87.3px;height:38.0px;background:#e7f5d2"></div>
<div class="abs" style="left:903.8px;top:446.5px;width:143.4px;height:38.0px;background:#fff4c4"></div>
<div class="abs" style="left:1047.2px;top:446.5px;width:64.0px;height:38.0px;background:#fff4c4"></div>
<div class="abs" style="left:1111.2px;top:446.5px;width:146.8px;height:38.0px;background:#e7f5d2"></div>
<div class="abs" style="left:1258.0px;top:446.5px;width:63.6px;height:38.0px;background:#e7f5d2"></div>
<div class="abs" style="left:1321.6px;top:446.5px;width:103.3px;height:38.0px;background:#e7f5d2"></div>
<div class="abs" style="left:1424.9px;top:446.5px;width:87.8px;height:38.0px;background:#e7f5d2"></div>
<div class="t m_fn2" style="top:457.00px;font-size:14px;line-height:18px;color:#2a6fd0;font-weight:400;font-family:'Liberation Sans',sans-serif;left:344px;">Button.tsx</div>
<div class="abs" style="left:479.500px;top:458.9px;width:163.600px;height:13.600px;background:#5c8f32"></div>
<div class="t m_v2_0" style="top:457.00px;font-size:14px;line-height:18px;color:#333;font-weight:400;font-family:'Liberation Sans',sans-serif;right:742.0px;">100%</div>
<div class="t m_v2_1" style="top:457.00px;font-size:14px;line-height:18px;color:#333;font-weight:400;font-family:'Liberation Sans',sans-serif;right:654.7px;">50/50</div>
<div class="t m_v2_2" style="top:457.00px;font-size:14px;line-height:18px;color:#333;font-weight:400;font-family:'Liberation Sans',sans-serif;right:511.29999999999995px;">50%</div>
<div class="t m_v2_3" style="top:457.00px;font-size:14px;line-height:18px;color:#333;font-weight:400;font-family:'Liberation Sans',sans-serif;right:447.29999999999995px;">1/2</div>
<div class="t m_v2_4" style="top:457.00px;font-size:14px;line-height:18px;color:#333;font-weight:400;font-family:'Liberation Sans',sans-serif;right:300.5px;">100%</div>
<div class="t m_v2_5" style="top:457.00px;font-size:14px;line-height:18px;color:#333;font-weight:400;font-family:'Liberation Sans',sans-serif;right:236.9000000000001px;">1/1</div>
<div class="t m_v2_6" style="top:457.00px;font-size:14px;line-height:18px;color:#333;font-weight:400;font-family:'Liberation Sans',sans-serif;right:133.5999999999999px;">100%</div>
<div class="t m_v2_7" style="top:457.00px;font-size:14px;line-height:18px;color:#333;font-weight:400;font-family:'Liberation Sans',sans-serif;right:45.799999999999955px;">50/50</div>
<div class="abs" style="left:333.1px;top:369.9px;width:1px;height:115.1px;background:#bcbcbc"></div>
<div class="abs" style="left:468.5px;top:369.9px;width:1px;height:115.1px;background:#bcbcbc"></div>
<div class="abs" style="left:652.7px;top:369.9px;width:1px;height:115.1px;background:#bcbcbc"></div>
<div class="abs" style="left:816.0px;top:369.9px;width:1px;height:115.1px;background:#bcbcbc"></div>
<div class="abs" style="left:903.3px;top:369.9px;width:1px;height:115.1px;background:#bcbcbc"></div>
<div class="abs" style="left:1046.7px;top:369.9px;width:1px;height:115.1px;background:#bcbcbc"></div>
<div class="abs" style="left:1110.7px;top:369.9px;width:1px;height:115.1px;background:#bcbcbc"></div>
<div class="abs" style="left:1257.5px;top:369.9px;width:1px;height:115.1px;background:#bcbcbc"></div>
<div class="abs" style="left:1321.1px;top:369.9px;width:1px;height:115.1px;background:#bcbcbc"></div>
<div class="abs" style="left:1424.4px;top:369.9px;width:1px;height:115.1px;background:#bcbcbc"></div>
<div class="abs" style="left:1512.2px;top:369.9px;width:1px;height:115.1px;background:#bcbcbc"></div>
<div class="abs" style="left:333.1px;top:369.9px;width:1180.1px;height:1px;background:#bcbcbc"></div>
<div class="abs" style="left:333.1px;top:407.9px;width:1180.1px;height:1px;background:#bcbcbc"></div>
<div class="abs" style="left:333.1px;top:446.0px;width:1180.1px;height:1px;background:#bcbcbc"></div>
<div class="abs" style="left:333.1px;top:484.0px;width:1180.1px;height:1px;background:#bcbcbc"></div>
<div class="t m_hfile" style="top:343.00px;font-size:14px;line-height:18px;color:#222;font-weight:400;font-family:'Liberation Sans',sans-serif;left:343.5px;">File</div>
<svg style="left:372px;top:349px" width="8" height="5" viewBox="0 0 8 5"><path d="M4 0L8 5H0z" fill="#222"/></svg>
<svg style="left:636.1px;top:345.800px" width="7" height="11" viewBox="0 0 7 11"><path d="M3.500 0L7 4.500H0z" fill="#c9c9c9"/><path d="M3.500 11L7 6.500H0z" fill="#c9c9c9"/></svg>
<div class="t m_hst" style="top:343.00px;font-size:14px;line-height:18px;color:#222;font-weight:400;font-family:'Liberation Sans',sans-serif;letter-spacing:0.1px;left:663.5px;">Statements</div>
<svg style="left:742.0px;top:345.800px" width="7" height="11" viewBox="0 0 7 11"><path d="M3.500 0L7 4.500H0z" fill="#c9c9c9"/><path d="M3.500 11L7 6.500H0z" fill="#c9c9c9"/></svg>
<svg style="left:885.9px;top:345.800px" width="7" height="11" viewBox="0 0 7 11"><path d="M3.500 0L7 4.500H0z" fill="#c9c9c9"/><path d="M3.500 11L7 6.500H0z" fill="#c9c9c9"/></svg>
<div class="t m_hbr" style="top:343.00px;font-size:14px;line-height:18px;color:#222;font-weight:400;font-family:'Liberation Sans',sans-serif;letter-spacing:0.1px;left:913.8px;">Branches</div>
<svg style="left:979.7px;top:345.800px" width="7" height="11" viewBox="0 0 7 11"><path d="M3.500 0L7 4.500H0z" fill="#c9c9c9"/><path d="M3.500 11L7 6.500H0z" fill="#c9c9c9"/></svg>
<svg style="left:1093.9px;top:345.800px" width="7" height="11" viewBox="0 0 7 11"><path d="M3.500 0L7 4.500H0z" fill="#c9c9c9"/><path d="M3.500 11L7 6.500H0z" fill="#c9c9c9"/></svg>
<div class="t m_hfn" style="top:343.00px;font-size:14px;line-height:18px;color:#222;font-weight:400;font-family:'Liberation Sans',sans-serif;letter-spacing:0.1px;left:1121.2px;">Functions</div>
<svg style="left:1189.3px;top:345.800px" width="7" height="11" viewBox="0 0 7 11"><path d="M3.500 0L7 4.500H0z" fill="#c9c9c9"/><path d="M3.500 11L7 6.500H0z" fill="#c9c9c9"/></svg>
<svg style="left:1304.3px;top:345.800px" width="7" height="11" viewBox="0 0 7 11"><path d="M3.500 0L7 4.500H0z" fill="#c9c9c9"/><path d="M3.500 11L7 6.500H0z" fill="#c9c9c9"/></svg>
<div class="t m_hln" style="top:343.00px;font-size:14px;line-height:18px;color:#222;font-weight:400;font-family:'Liberation Sans',sans-serif;left:1331.6px;">Lines</div>
<svg style="left:1371.2px;top:345.800px" width="7" height="11" viewBox="0 0 7 11"><path d="M3.500 0L7 4.500H0z" fill="#c9c9c9"/><path d="M3.500 11L7 6.500H0z" fill="#c9c9c9"/></svg>
<svg style="left:1495.4px;top:345.800px" width="7" height="11" viewBox="0 0 7 11"><path d="M3.500 0L7 4.500H0z" fill="#c9c9c9"/><path d="M3.500 11L7 6.500H0z" fill="#c9c9c9"/></svg>
<div class="t m_foot" style="top:903.60px;font-size:12px;line-height:16px;color:#7f7f7f;font-weight:400;font-family:'Liberation Sans',sans-serif;letter-spacing:0.04px;left:923.2px;transform:translateX(-50%);">Code coverage generated by <span style="color:#5e93dc">istanbul</span> at 2025-05-16T20:38:29.610Z</div>
</div></div>
</body>
</html>
